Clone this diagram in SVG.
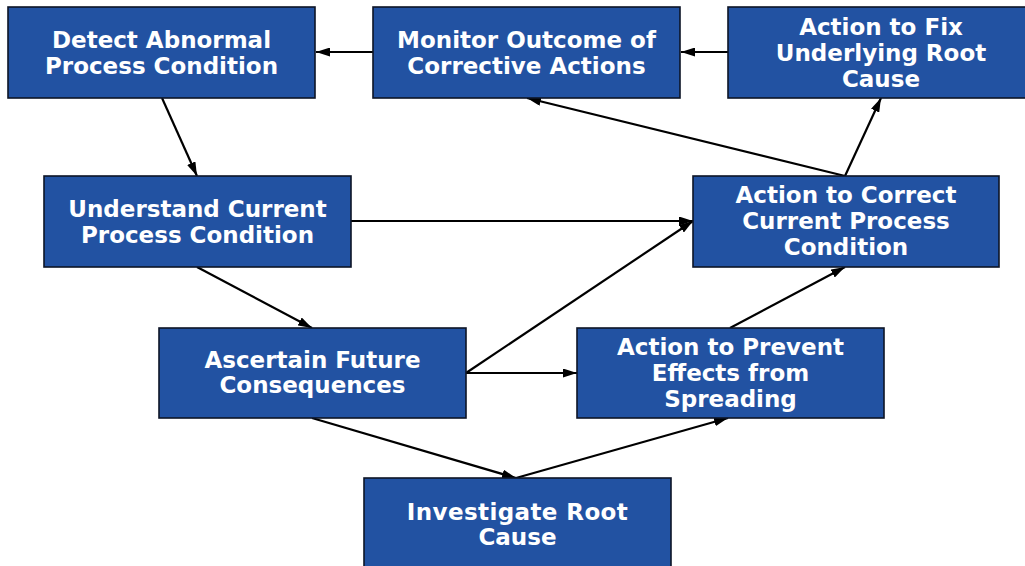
<svg xmlns="http://www.w3.org/2000/svg" width="1025" height="566" viewBox="0 0 1025 566">
<defs>
<style>
.box{fill:#2252a2;stroke:#0d1426;stroke-width:1.6}
.lbl{fill:#ffffff;font-family:"DejaVu Sans",Verdana,sans-serif;font-weight:bold;font-size:23px;text-anchor:middle}
.edge{stroke:#000;stroke-width:2.2;fill:none;marker-end:url(#arr)}
</style>
<marker id="arr" viewBox="0 0 14 9" refX="14" refY="4.5" markerWidth="14" markerHeight="9" markerUnits="userSpaceOnUse" orient="auto">
<path d="M0,0 L14,4.5 L0,9 z" fill="#000"/>
</marker>
</defs>
<rect width="1025" height="566" fill="#ffffff"/>
<g id="connectors">
<line class="edge" x1="373" y1="52" x2="316" y2="52"/>
<line class="edge" x1="728" y1="52" x2="681" y2="52"/>
<line class="edge" x1="162" y1="98" x2="197" y2="176"/>
<line class="edge" x1="351" y1="221" x2="693" y2="221"/>
<line class="edge" x1="466" y1="373" x2="693" y2="221"/>
<line class="edge" x1="197" y1="267" x2="312" y2="328"/>
<line class="edge" x1="466" y1="373" x2="577" y2="373"/>
<line class="edge" x1="312" y1="418" x2="516" y2="478"/>
<line class="edge" x1="516" y1="478" x2="728" y2="418"/>
<line class="edge" x1="730" y1="328" x2="845" y2="267"/>
<line class="edge" x1="845" y1="176" x2="881" y2="98"/>
<line class="edge" x1="845" y1="176" x2="527" y2="98"/>
</g>
<g id="detect">
<rect class="box" x="8" y="7" width="307" height="91"/>
<text class="lbl" x="161.5" y="48">Detect Abnormal</text>
<text class="lbl" x="161.5" y="74">Process Condition</text>
</g>
<g id="monitor">
<rect class="box" x="373" y="7" width="307" height="91"/>
<text class="lbl" x="526.5" y="48">Monitor Outcome of</text>
<text class="lbl" x="526.5" y="74">Corrective Actions</text>
</g>
<g id="fix">
<rect class="box" x="728" y="7" width="307" height="91"/>
<text class="lbl" x="881" y="35">Action to Fix</text>
<text class="lbl" x="881" y="61">Underlying Root</text>
<text class="lbl" x="881" y="87">Cause</text>
</g>
<g id="understand">
<rect class="box" x="44" y="176" width="307" height="91"/>
<text class="lbl" x="197.5" y="217">Understand Current</text>
<text class="lbl" x="197.5" y="243">Process Condition</text>
</g>
<g id="correct">
<rect class="box" x="693" y="176" width="306" height="91"/>
<text class="lbl" x="846" y="203">Action to Correct</text>
<text class="lbl" x="846" y="229">Current Process</text>
<text class="lbl" x="846" y="255">Condition</text>
</g>
<g id="ascertain">
<rect class="box" x="159" y="328" width="307" height="90"/>
<text class="lbl" x="312.5" y="368">Ascertain Future</text>
<text class="lbl" x="312.5" y="393">Consequences</text>
</g>
<g id="prevent">
<rect class="box" x="577" y="328" width="307" height="90"/>
<text class="lbl" x="730.5" y="355">Action to Prevent</text>
<text class="lbl" x="730.5" y="381">Effects from</text>
<text class="lbl" x="730.5" y="407">Spreading</text>
</g>
<g id="investigate">
<rect class="box" x="364" y="478" width="307" height="91"/>
<text class="lbl" x="517.5" y="520" style="letter-spacing:0.4px">Investigate Root</text>
<text class="lbl" x="517.5" y="545">Cause</text>
</g>
</svg>
